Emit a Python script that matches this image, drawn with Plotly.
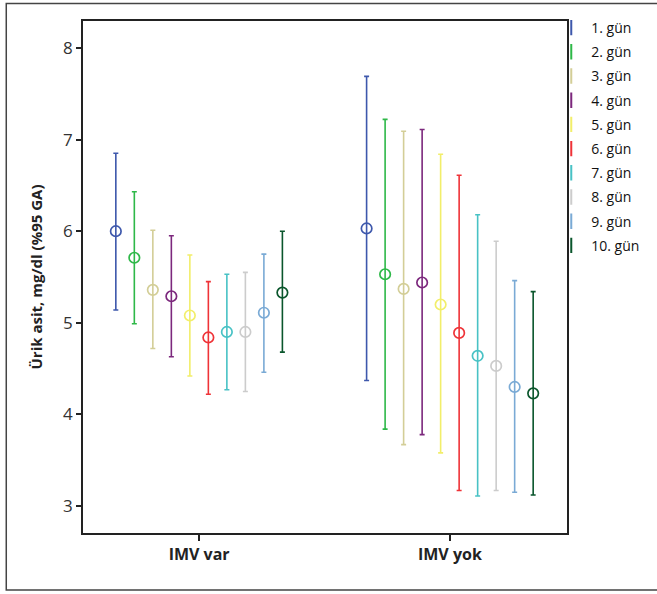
import plotly.graph_objects as go

groups = ["IMV var", "IMV yok"]
days = ["1. gün", "2. gün", "3. gün", "4. gün", "5. gün",
        "6. gün", "7. gün", "8. gün", "9. gün", "10. gün"]

# means and 95% CI per day: [IMV var, IMV yok]
mean_var = [6.00, 5.71, 5.36, 5.29, 5.08, 4.84, 4.90, 4.90, 5.11, 5.33]
low_var  = [5.14, 4.99, 4.72, 4.63, 4.42, 4.22, 4.27, 4.25, 4.46, 4.68]
high_var = [6.85, 6.43, 6.01, 5.95, 5.74, 5.45, 5.53, 5.55, 5.75, 6.00]

mean_yok = [6.03, 5.53, 5.37, 5.44, 5.20, 4.89, 4.64, 4.53, 4.30, 4.23]
low_yok  = [4.37, 3.84, 3.67, 3.78, 3.58, 3.17, 3.11, 3.17, 3.15, 3.12]
high_yok = [7.69, 7.22, 7.09, 7.11, 6.84, 6.61, 6.18, 5.89, 5.46, 5.34]

colors = ["#3E58AC", "#2EB848", "#D3CE97", "#7C287D", "#F2EE6A",
          "#EF3338", "#48C2C5", "#CCCCCC", "#7AAAD5", "#0A562C"]

y_ticks = [3, 4, 5, 6, 7, 8]

W, H = 657, 594
ML, MR, MT, MB = 83, 82, 20, 61
pw, ph = W - ML - MR, H - MT - MB

fig = go.Figure()
step = 0.0738
for i, d in enumerate(days):
    off = (i - 4.5) * step
    xs = [0 + off, 1 + off]
    ys = [mean_var[i], mean_yok[i]]
    up = [high_var[i] - mean_var[i], high_yok[i] - mean_yok[i]]
    dn = [mean_var[i] - low_var[i], mean_yok[i] - low_yok[i]]
    fig.add_trace(go.Scatter(
        x=xs, y=ys, mode="markers", showlegend=False,
        marker=dict(symbol="circle-open", size=10.5, color=colors[i],
                    line=dict(width=1.7, color=colors[i])),
        error_y=dict(type="data", symmetric=False, array=up, arrayminus=dn,
                     color=colors[i], thickness=1.6, width=2.5),
    ))
    fig.add_trace(go.Scatter(
        x=[None], y=[None], mode="markers", name=d, legendgroup=d,
        marker=dict(symbol="line-ns-open", size=11, color=colors[i],
                    line=dict(width=2, color=colors[i])),
    ))

# outer frame (its right edge lies outside the picture)
fig.add_shape(type="rect", xref="paper", yref="paper",
              x0=(5 - ML) / pw, x1=(670 - ML) / pw,
              y0=(H - MB - 590) / ph, y1=(H - MB - 2.5) / ph,
              line=dict(color="#444444", width=1.5))

fig.update_layout(
    width=W, height=H,
    margin=dict(l=ML, r=MR, t=MT, b=MB),
    paper_bgcolor="white", plot_bgcolor="white",
    font=dict(family="Open Sans", color="#222222"),
    legend=dict(x=(559 - ML) / pw, y=(H - MB - 11) / ph, xanchor="left", yanchor="top",
                font=dict(family="Open Sans", size=14, color="#111111"),
                tracegroupgap=3, itemwidth=30, bgcolor="rgba(0,0,0,0)"),
    xaxis=dict(range=[-0.463, 1.467], tickvals=[0, 1], ticktext=groups,
               showgrid=False, zeroline=False, showline=True, linecolor="#222222",
               linewidth=1.5, mirror=True, ticks="outside", ticklen=6, tickwidth=1.5,
               tickcolor="#222222",
               tickfont=dict(family="Open Sans", size=16, color="#222222", weight="bold")),
    yaxis=dict(range=[2.706, 8.294], tickvals=y_ticks,
               showgrid=False, zeroline=False, showline=True, linecolor="#222222",
               linewidth=1.5, mirror=True, ticks="outside", ticklen=5, tickwidth=1.5,
               tickcolor="#222222",
               tickfont=dict(family="Open Sans", size=17, color="#333333"),
               title=dict(text="Ürik asit, mg/dl (%95 GA)", standoff=17,
                          font=dict(family="Open Sans", size=15, color="#222222",
                                    weight="bold"))),
)

fig.write_html("out.html", config={"displayModeBar": False},
               post_script="document.body.style.margin='0';document.body.style.overflow='hidden';")
